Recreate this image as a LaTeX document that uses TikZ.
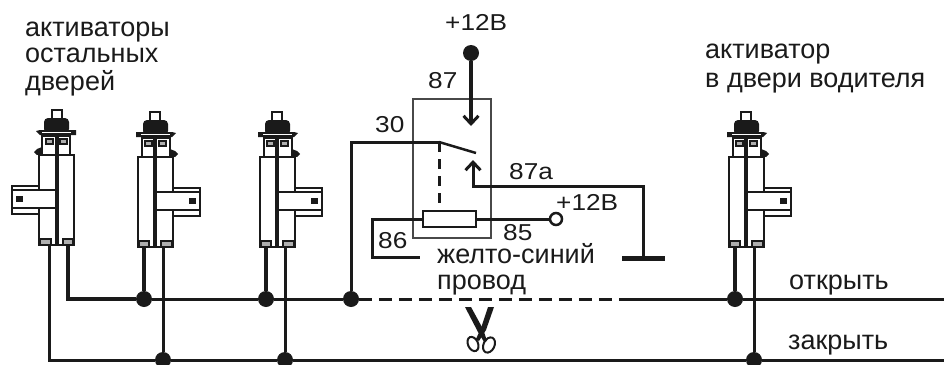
\documentclass[tikz,border=0pt]{standalone}
\usepackage{fontspec}
\setmainfont{Liberation Sans}
\usetikzlibrary{arrows.meta}
\usetikzlibrary{positioning}
\definecolor{ink}{HTML}{1A1A1A}
\tikzstyle{wire}=[draw=ink,line width=3pt]
\tikzstyle{pinwire}=[draw=ink,line width=4pt]
\tikzstyle{feed}=[draw=ink,line width=4pt,-{Straight Barb[length=8pt,width=15pt,line width=3pt]}]
\tikzstyle{feed thin}=[draw=ink,line width=3pt,-{Straight Barb[length=8pt,width=15pt,line width=3pt]}]
\tikzstyle{cutwire}=[draw=ink,line width=3pt,dash pattern=on 13pt off 7pt]
\tikzstyle{dot}=[circle,fill=ink,inner sep=0pt,minimum width=16pt,minimum height=15pt]
\tikzstyle{relaybox}=[draw=ink!80,line width=2.5pt,inner sep=0pt]
\tikzstyle{coilbox}=[draw=ink,line width=2.5pt,fill=white,inner sep=0pt,minimum width=53pt,minimum height=16pt]
\tikzstyle{txt}=[text=ink,inner sep=0pt,anchor=base west,font=\fontsize{27}{30}\selectfont]
\tikzstyle{num}=[text=ink,inner sep=0pt,anchor=base west,font=\fontsize{23}{25}\selectfont,xscale=1.14,transform shape]
\tikzstyle{part}=[draw=ink,line width=2.5pt]
\tikzstyle{slot}=[draw=ink,line width=2pt,fill=ink!35]
\tikzset{actuator/.pic={
  \fill[white] (-17,-90) rectangle (18,0);
  \draw[part] (-17,-90) rectangle (18,0);
  \draw[part] (-13,-90) -- (-13,-109) -- (15,-109) -- (15,-90);
  \draw[part] (18,-59) -- (45,-59) -- (45,-31) -- (18,-31);
  \draw[part,fill=white] (45,-55) -- (0,-55) -- (0,-37) -- (45,-37);
  \draw[part] (45,-59) -- (45,-31);
  \fill[ink] (34,-49) rectangle (41,-43);
  \draw[draw=ink,line width=3.5pt] (0,-110) -- (0,0);
  \draw[slot] (-10,-106) rectangle (-3,-101);
  \draw[slot] (4,-106) rectangle (11,-101);
  \draw[slot] (-16,-6) rectangle (-6,0);
  \draw[slot] (6,-6) rectangle (17,0);
  \fill[ink,rounded corners=4pt] (-12,-112) -- (-12,-127) -- (13,-127) -- (13,-112) -- cycle;
  \fill[ink] (-19,-115) -- (17,-115) -- (21,-114) -- (17,-110) -- (-19,-110) -- cycle;
  \draw[white,line width=0.8pt] (-14,-112.5) -- (15,-112.5);
  \draw[part] (-5,-127) -- (-5,-135) -- (5,-135) -- (5,-127);
  \fill[ink] (15,-98) -- (20,-96) -- (23,-93) -- (20,-90) -- (15,-91) -- cycle;
  \coordinate (-a) at (-11,0);
  \coordinate (-b) at (8,0);
}}
\begin{document}
\begin{tikzpicture}[x=1pt,y=-1pt]
    \useasboundingbox (0,0) rectangle (944,364);
    % actuators
    \pic (act1) at (57,245) [xscale=-1] {actuator};
    \pic (act2) at (155,247) {actuator};
    \pic (act3) at (277,247) {actuator};
    \pic (act4) at (746,247) {actuator};
    % junctions on the two lines
    \node [dot] (open2) at (act2-a |- 0,299) {};
    \node [dot] (open3) at (act3-a |- 0,299) {};
    \node [dot] (relay30) at (351,299) {};
    \node [dot] (open4) at (act4-a |- 0,299) {};
    \node [dot] (close2) at (act2-b |- 0,360) {};
    \node [dot] (close3) at (act3-b |- 0,360) {};
    \node [dot] (close4) at (act4-b |- 0,360) {};
    \coordinate (cut) at (625,299);
    \coordinate (openend) at (944,299);
    \coordinate (closeend) at (944,360);
    \draw [wire] (act1-b) |- (close2) -- (close3) -- (close4) -- (closeend);
    \draw [pinwire] (act1-a) |- (open2);
    \draw [wire] (open2) -- (open3) -- (relay30);
    \draw [cutwire] (relay30) -- (cut);
    \draw [wire] (cut) -- (open4) -- (openend);
    \foreach \n in {2,3,4} {
        \draw [pinwire] (act\n-a) -- (open\n);
        \draw [wire] (act\n-b) -- (close\n);
    }
    % relay
    \node [relaybox,minimum width=78pt,minimum height=139pt] (relay) at (452,168.5) {};
    \node [coilbox] (coil) at (449.5,219) {};
    \node [dot] (plus) at (471,53) {};
    \coordinate (tip87) at (471,126);
    \coordinate (pivot) at (439,142);
    \coordinate (blade) at (476,153);
    \coordinate (tip87a) at (473,160);
    \coordinate (gnd) at (643,258);
    \coordinate (coilend) at (420,257);
    \draw [feed] (plus) -- (tip87);
    \draw [wire] (relay30) |- (pivot);
    \draw [draw=ink,line width=2.5pt] (pivot) -- (blade);
    \draw [draw=ink,line width=3pt,dash pattern=on 10pt off 7pt] (pivot) -- (coil.north -| pivot);
    \draw [feed thin] (gnd) |- (473,186) -- (tip87a);
    \draw [draw=ink,line width=5pt] (622,258) -- (665,258);
    \node [circle,draw=ink,line width=2.5pt,fill=white,inner sep=0pt,minimum size=12pt] (coilplus) at (556,219) {};
    \draw [wire] (coil.east) -- (coilplus);
    \draw [wire] (coil.west) -- (372,219) |- (coilend);
    % scissors
    \fill [ink] (465,307) -- (471,307) -- (483,329) -- (487,341) -- (484,342) -- (478,332) -- cycle;
    \fill [ink] (488,307) -- (494,307) -- (486,330) -- (479,341) -- (476,339) -- (481,328) -- cycle;
    \draw [draw=ink,line width=2pt] (473,344) ellipse [x radius=5pt,y radius=7.5pt,rotate=25];
    \draw [draw=ink,line width=2pt] (489,345) ellipse [x radius=5.5pt,y radius=8pt,rotate=-25];
    % labels
    \node [txt] (lblrest1) at (25,36) {активаторы};
    \node [txt] (lblrest2) at (25,62) {остальных};
    \node [txt] (lblrest3) at (25,90) {дверей};
    \node [txt] (lbldrv1) at (705,58) {активатор};
    \node [txt] (lbldrv2) at (705,87) {в двери водителя};
    \node [num] (lbl12a) at (445,30) {+12В};
    \node [num] (lbl87) at (428,88) {87};
    \node [num] (lbl30) at (375,132) {30};
    \node [num] (lbl87a) at (509,179) {87а};
    \node [num] (lbl12b) at (556,210) {+12В};
    \node [num] (lbl85) at (503,240) {85};
    \node [num] (lbl86) at (378,248) {86};
    \node [txt] (lblwire1) at (437,263) {желто-синий};
    \node [txt] (lblwire2) at (437,289) {провод};
    \node [txt] (lblopen) at (789,289) {открыть};
    \node [txt] (lblclose) at (788,349) {закрыть};
\end{tikzpicture}
\end{document}
